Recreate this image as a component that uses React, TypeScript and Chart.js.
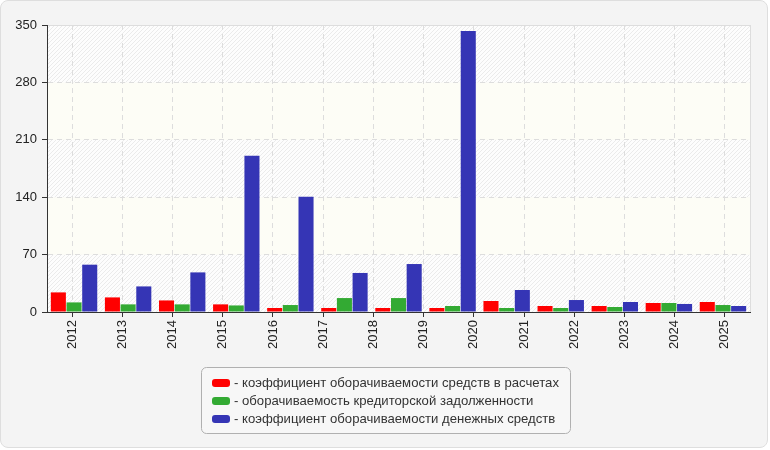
import React, { useEffect, useRef } from 'react';
import { Chart, registerables } from 'chart.js';

Chart.register(...registerables);

// 14 year labels on the axis, 13 bar groups in the picture
const yearTicks = ['2012', '2013', '2014', '2015', '2016', '2017', '2018', '2019', '2020', '2021', '2022', '2023', '2024', '2025'];
const barSlots = ['2012', '2013', '2014', '2015', '2016', '2017', '2018', '2019', '2020', '2021', '2022', '2023', '2024'];

const settlementsTurnover = [23.9, 17.8, 14.1, 9.3, 4.9, 4.9, 4.9, 4.9, 13.4, 7.3, 7.3, 11.0, 12.2];
const payablesTurnover = [11.7, 9.3, 9.3, 8.0, 8.5, 17.0, 17.0, 7.3, 4.9, 4.9, 6.1, 11.0, 8.5];
const cashTurnover = [57.7, 31.2, 48.3, 190.5, 140.5, 47.6, 58.5, 342.7, 26.8, 14.6, 12.2, 9.8, 7.3];

const seriesNames = [
  'коэффициент оборачиваемости средств в расчетах',
  'оборачиваемость кредиторской задолженности',
  'коэффициент оборачиваемости денежных средств',
];
const seriesColors = ['#ff0000', '#33aa33', '#3535b5'];

const FONT = '"Liberation Sans", Arial, sans-serif';

function makeHatch(): CanvasPattern | string {
  const c = document.createElement('canvas');
  c.width = 4;
  c.height = 4;
  const g = c.getContext('2d');
  if (!g) return '#fafafa';
  g.fillStyle = '#fdfdfd';
  g.fillRect(0, 0, 4, 4);
  g.strokeStyle = '#ebebeb';
  g.lineWidth = 1;
  g.beginPath();
  g.moveTo(0, 4);
  g.lineTo(4, 0);
  g.moveTo(-1, 1);
  g.lineTo(1, -1);
  g.moveTo(3, 5);
  g.lineTo(5, 3);
  g.stroke();
  return g.createPattern(c, 'repeat') || '#fafafa';
}

// striped / plain bands behind the bars, one per y step
const bandsPlugin = {
  id: 'bands',
  beforeDraw(chart: any) {
    const { ctx, chartArea, scales } = chart;
    const y = scales.y;
    const hatch = makeHatch();
    const ticks = y.ticks.map((t: any) => t.value);
    ctx.save();
    for (let i = 0; i < ticks.length - 1; i++) {
      const yb = y.getPixelForValue(ticks[i]);
      const yt = y.getPixelForValue(ticks[i + 1]);
      ctx.fillStyle = i % 2 === 0 ? hatch : '#fdfdf6';
      ctx.fillRect(chartArea.left, yt, chartArea.right - chartArea.left, yb - yt);
    }
    ctx.strokeStyle = '#dddddd';
    ctx.lineWidth = 1;
    ctx.strokeRect(chartArea.left + 0.5, chartArea.top + 0.5, chartArea.right - chartArea.left, chartArea.bottom - chartArea.top);
    ctx.restore();
  },
};

// boxed legend, one row per series
const boxLegendPlugin = {
  id: 'boxLegend',
  afterDraw(chart: any) {
    const { ctx } = chart;
    const sets = chart.data.datasets;
    ctx.save();
    ctx.font = `13.15px ${FONT}`;
    const texts = sets.map((d: any) => '- ' + d.label);
    const textW = Math.max(...texts.map((t: string) => ctx.measureText(t).width));
    const boxW = Math.round(11 + 22 + textW + 11);
    const rowH = 18;
    const boxH = 12 + rowH * sets.length;
    const x0 = Math.round((chart.width - boxW) / 2) + 0.5;
    const y0 = 367.5;
    ctx.beginPath();
    ctx.roundRect(x0, y0, boxW, boxH, 5);
    ctx.fillStyle = '#f7f7f7';
    ctx.fill();
    ctx.strokeStyle = '#b0b0b0';
    ctx.lineWidth = 1;
    ctx.stroke();
    sets.forEach((d: any, i: number) => {
      const cy = y0 + 15.5 + i * rowH;
      ctx.beginPath();
      ctx.roundRect(x0 + 10.5, cy - 4, 18, 8, 3);
      ctx.fillStyle = d.backgroundColor;
      ctx.fill();
      ctx.fillStyle = '#333333';
      ctx.textBaseline = 'middle';
      ctx.textAlign = 'left';
      ctx.fillText(texts[i], x0 + 32.5, cy + 0.5);
    });
    ctx.restore();
  },
};

export default function App() {
  const canvasRef = useRef<HTMLCanvasElement | null>(null);
  const chartRef = useRef<Chart | null>(null);

  useEffect(() => {
    if (!canvasRef.current) return;
    const values = [settlementsTurnover, payablesTurnover, cashTurnover];
    chartRef.current = new Chart(canvasRef.current, {
      type: 'bar',
      data: {
        labels: barSlots,
        datasets: values.map((data, i) => ({
          label: seriesNames[i],
          data,
          backgroundColor: seriesColors[i],
          borderWidth: 0,
          categoryPercentage: 0.87,
          barPercentage: 0.96,
        })),
      },
      plugins: [bandsPlugin, boxLegendPlugin],
      options: {
        responsive: false,
        animation: false,
        layout: { padding: { left: 0, right: 20, top: 25, bottom: 93 } },
        plugins: {
          legend: { display: false },
          tooltip: { enabled: false },
        },
        scales: {
          x: { display: false, offset: true },
          x2: {
            type: 'category',
            position: 'bottom',
            labels: yearTicks,
            offset: true,
            grid: {
              offset: false,
              color: '#dddddd',
              drawTicks: true,
              tickLength: 5,
              tickColor: '#333333',
              tickBorderDash: [],
            },
            border: { color: '#333333', width: 1, dash: [5, 4] },
            ticks: {
              color: '#222222',
              font: { family: FONT, size: 13 },
              maxRotation: 90,
              minRotation: 90,
              padding: 3,
            },
            afterFit: (scale: any) => {
              scale.height = 45;
            },
          },
          y: {
            min: 0,
            max: 350,
            ticks: {
              stepSize: 70,
              color: '#222222',
              font: { family: FONT, size: 13 },
              padding: 5,
            },
            grid: {
              color: '#dddddd',
              tickLength: 5,
              tickColor: '#333333',
              tickBorderDash: [],
            },
            border: { color: '#333333', width: 1, dash: [5, 4] },
            afterFit: (scale: any) => {
              scale.width = 47;
            },
          },
        },
      },
    } as any);
    return () => {
      chartRef.current?.destroy();
      chartRef.current = null;
    };
  }, []);

  return (
    <div style={{ position: 'fixed', left: 0, top: 0, width: 770, height: 450 }}>
      <div
        style={{
          position: 'absolute',
          left: 0,
          top: 0,
          width: 766,
          height: 446,
          border: '1px solid #dedede',
          borderRadius: 8,
          background: '#f4f4f4',
        }}
      />
      <canvas ref={canvasRef} width={770} height={450} style={{ position: 'absolute', left: 0, top: 0 }} />
    </div>
  );
}
